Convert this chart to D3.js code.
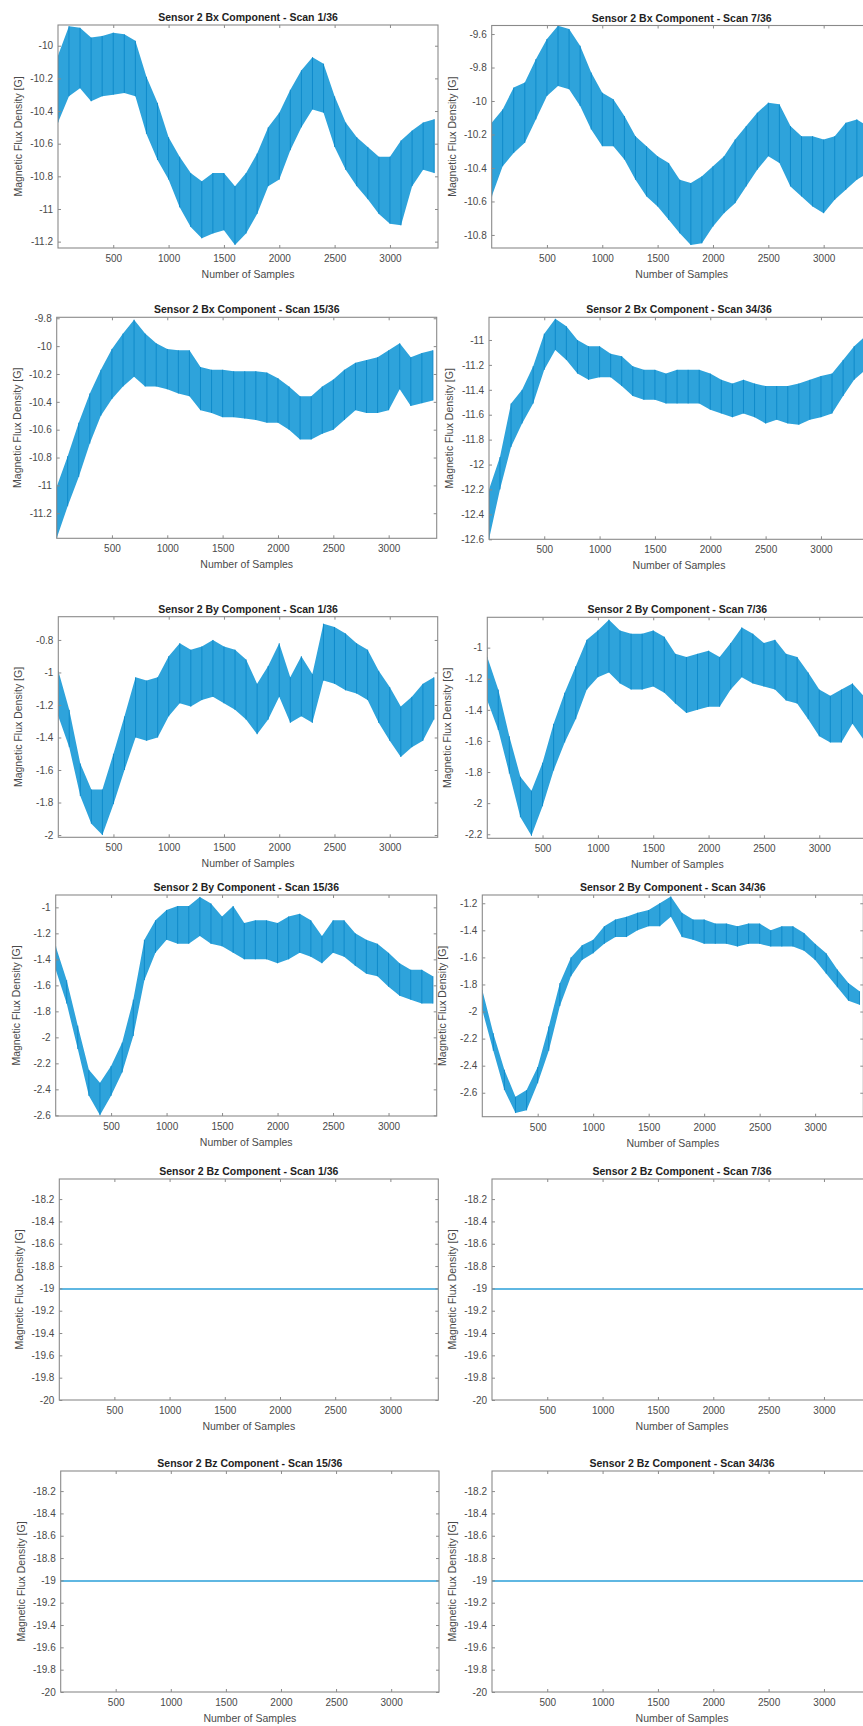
<!DOCTYPE html>
<html><head><meta charset="utf-8">
<script src="https://cdn.jsdelivr.net/npm/d3@7"></script>
<style>
body{margin:0;background:#fff;overflow:hidden}
svg{display:block}
text{font-family:"Liberation Sans",Arial,Helvetica,sans-serif}
</style>
</head><body><div id="chart"></div>
<script>
// ---------- data ----------
const samples = [1,100,200,300,400,500,600,700,800,900,1000,1100,1200,1300,1400,1500,1600,1700,1800,1900,2000,2100,2200,2300,2400,2500,2600,2700,2800,2900,3000,3100,3200,3300,3400];
const sampleRange = [1, 3434];
const xTicks = [500,1000,1500,2000,2500,3000];
const components = ["Bx","By","Bz"];
const scans = ["1/36","7/36","15/36","34/36"];

// Bx, scan 1/36 (upper / lower envelope of the oscillating signal)
const bx1Hi = [-10.06,-9.88,-9.89,-9.95,-9.94,-9.92,-9.93,-9.97,-10.19,-10.35,-10.56,-10.68,-10.78,-10.83,-10.78,-10.78,-10.86,-10.78,-10.66,-10.50,-10.41,-10.27,-10.15,-10.07,-10.11,-10.31,-10.47,-10.56,-10.62,-10.68,-10.68,-10.58,-10.52,-10.47,-10.45];
const bx1Lo = [-10.47,-10.31,-10.26,-10.34,-10.31,-10.30,-10.29,-10.31,-10.54,-10.70,-10.82,-10.99,-11.11,-11.18,-11.15,-11.13,-11.22,-11.15,-11.03,-10.86,-10.82,-10.64,-10.50,-10.39,-10.41,-10.62,-10.76,-10.86,-10.94,-11.03,-11.09,-11.10,-10.86,-10.76,-10.78];
// Bx, scan 7/36
const bx7Hi = [-10.13,-10.05,-9.92,-9.89,-9.75,-9.63,-9.55,-9.57,-9.67,-9.83,-9.95,-9.99,-10.09,-10.21,-10.27,-10.33,-10.37,-10.47,-10.49,-10.45,-10.39,-10.33,-10.23,-10.15,-10.07,-10.01,-10.02,-10.15,-10.21,-10.21,-10.23,-10.21,-10.13,-10.11,-10.15];
const bx7Lo = [-10.57,-10.39,-10.31,-10.25,-10.11,-9.97,-9.91,-9.93,-10.03,-10.17,-10.27,-10.27,-10.35,-10.47,-10.57,-10.63,-10.71,-10.79,-10.86,-10.85,-10.75,-10.67,-10.61,-10.51,-10.41,-10.33,-10.37,-10.51,-10.57,-10.63,-10.67,-10.59,-10.53,-10.47,-10.43];
// Bx, scan 15/36
const bx15Hi = [-11.01,-10.79,-10.55,-10.34,-10.17,-10.02,-9.91,-9.81,-9.91,-9.98,-10.02,-10.03,-10.03,-10.15,-10.17,-10.17,-10.18,-10.18,-10.18,-10.19,-10.23,-10.29,-10.36,-10.36,-10.29,-10.24,-10.17,-10.12,-10.10,-10.08,-10.03,-9.98,-10.08,-10.05,-10.03];
const bx15Lo = [-11.38,-11.15,-10.94,-10.70,-10.50,-10.38,-10.29,-10.22,-10.29,-10.29,-10.31,-10.34,-10.36,-10.46,-10.48,-10.51,-10.51,-10.52,-10.53,-10.55,-10.55,-10.60,-10.67,-10.67,-10.63,-10.60,-10.53,-10.46,-10.48,-10.48,-10.46,-10.31,-10.43,-10.41,-10.39];
// Bx, scan 34/36
const bx34Hi = [-12.20,-11.94,-11.51,-11.40,-11.21,-10.95,-10.83,-10.89,-11.00,-11.05,-11.05,-11.11,-11.13,-11.21,-11.24,-11.24,-11.27,-11.24,-11.24,-11.24,-11.27,-11.32,-11.35,-11.32,-11.35,-11.37,-11.37,-11.37,-11.35,-11.32,-11.29,-11.27,-11.16,-11.05,-10.97];
const bx34Lo = [-12.60,-12.20,-11.86,-11.67,-11.51,-11.24,-11.08,-11.16,-11.27,-11.32,-11.30,-11.30,-11.37,-11.45,-11.48,-11.48,-11.51,-11.51,-11.51,-11.51,-11.56,-11.59,-11.62,-11.59,-11.62,-11.67,-11.64,-11.67,-11.68,-11.64,-11.62,-11.59,-11.45,-11.32,-11.24];
// By, scan 1/36
const by1Hi = [-0.99,-1.23,-1.56,-1.72,-1.72,-1.50,-1.27,-1.03,-1.05,-1.03,-0.90,-0.82,-0.86,-0.84,-0.80,-0.84,-0.86,-0.92,-1.07,-0.96,-0.82,-1.03,-0.90,-1.01,-0.70,-0.72,-0.76,-0.82,-0.86,-0.99,-1.09,-1.21,-1.15,-1.07,-1.03];
const by1Lo = [-1.27,-1.46,-1.76,-1.93,-2.00,-1.81,-1.60,-1.40,-1.42,-1.40,-1.27,-1.19,-1.21,-1.17,-1.15,-1.19,-1.23,-1.29,-1.38,-1.29,-1.15,-1.31,-1.27,-1.31,-1.05,-1.07,-1.11,-1.13,-1.17,-1.31,-1.42,-1.52,-1.46,-1.42,-1.29];
// By, scan 7/36
const by7Hi = [-1.06,-1.27,-1.57,-1.83,-1.92,-1.74,-1.49,-1.29,-1.12,-0.95,-0.89,-0.82,-0.89,-0.91,-0.91,-0.89,-0.93,-1.04,-1.06,-1.04,-1.02,-1.06,-0.97,-0.87,-0.91,-0.97,-0.95,-1.04,-1.06,-1.16,-1.27,-1.31,-1.27,-1.23,-1.31];
const by7Lo = [-1.34,-1.53,-1.81,-2.09,-2.21,-2.02,-1.79,-1.61,-1.46,-1.27,-1.19,-1.16,-1.23,-1.27,-1.27,-1.25,-1.29,-1.36,-1.42,-1.40,-1.38,-1.38,-1.27,-1.19,-1.23,-1.25,-1.27,-1.34,-1.36,-1.46,-1.57,-1.61,-1.61,-1.49,-1.59];
// By, scan 15/36
const by15Hi = [-1.30,-1.56,-1.91,-2.25,-2.35,-2.22,-2.04,-1.71,-1.25,-1.10,-1.02,-0.99,-0.99,-0.92,-0.97,-1.07,-0.99,-1.12,-1.10,-1.10,-1.12,-1.07,-1.05,-1.10,-1.22,-1.10,-1.10,-1.20,-1.25,-1.28,-1.35,-1.43,-1.48,-1.48,-1.53];
const by15Lo = [-1.48,-1.74,-2.09,-2.45,-2.60,-2.45,-2.27,-1.99,-1.56,-1.35,-1.25,-1.28,-1.28,-1.22,-1.28,-1.30,-1.35,-1.40,-1.40,-1.40,-1.43,-1.40,-1.35,-1.38,-1.43,-1.35,-1.38,-1.45,-1.51,-1.53,-1.61,-1.68,-1.71,-1.74,-1.74];
// By, scan 34/36
const by34Hi = [-1.84,-2.16,-2.43,-2.63,-2.58,-2.41,-2.11,-1.79,-1.60,-1.51,-1.47,-1.37,-1.32,-1.30,-1.27,-1.25,-1.20,-1.15,-1.27,-1.32,-1.32,-1.35,-1.35,-1.37,-1.35,-1.35,-1.40,-1.37,-1.37,-1.42,-1.50,-1.57,-1.69,-1.79,-1.85];
const by34Lo = [-1.99,-2.29,-2.58,-2.75,-2.73,-2.53,-2.29,-1.96,-1.74,-1.62,-1.57,-1.50,-1.45,-1.45,-1.40,-1.37,-1.37,-1.30,-1.45,-1.47,-1.50,-1.50,-1.50,-1.52,-1.50,-1.50,-1.52,-1.52,-1.52,-1.55,-1.62,-1.72,-1.82,-1.92,-1.95];
// Bz, all scans: constant level
const bzLevels = [-19.005,-19.005,-19.005,-19.005];

// axis ranges (axis tight) and tick labels
const bx1Domain = [-11.239,-9.873], bx1Ticks = [-11.2,-11,-10.8,-10.6,-10.4,-10.2,-10];
const bx7Domain = [-10.878,-9.549], bx7Ticks = [-10.8,-10.6,-10.4,-10.2,-10,-9.8,-9.6];
const bx15Domain = [-11.38,-9.793], bx15Ticks = [-11.2,-11,-10.8,-10.6,-10.4,-10.2,-10,-9.8];
const bx34Domain = [-12.6,-10.818], bx34Ticks = [-12.6,-12.4,-12.2,-12,-11.8,-11.6,-11.4,-11.2,-11];
const by1Domain = [-2.014,-0.657], by1Ticks = [-2,-1.8,-1.6,-1.4,-1.2,-1,-0.8];
const by7Domain = [-2.226,-0.805], by7Ticks = [-2.2,-2,-1.8,-1.6,-1.4,-1.2,-1];
const by15Domain = [-2.605,-0.905], by15Ticks = [-2.6,-2.4,-2.2,-2,-1.8,-1.6,-1.4,-1.2,-1];
const by34Domain = [-2.777,-1.139], by34Ticks = [-2.6,-2.4,-2.2,-2,-1.8,-1.6,-1.4,-1.2];
const bzDomain = [-20,-18.02], bzTicks = [-20,-19.8,-19.6,-19.4,-19.2,-19,-18.8,-18.6,-18.4,-18.2];

// ---------- panels ----------
const panels = [
  {comp:0, scan:0, hi:bx1Hi, lo:bx1Lo, dom:bx1Domain, ticks:bx1Ticks},
  {comp:0, scan:1, hi:bx7Hi, lo:bx7Lo, dom:bx7Domain, ticks:bx7Ticks},
  {comp:0, scan:2, hi:bx15Hi, lo:bx15Lo, dom:bx15Domain, ticks:bx15Ticks},
  {comp:0, scan:3, hi:bx34Hi, lo:bx34Lo, dom:bx34Domain, ticks:bx34Ticks},
  {comp:1, scan:0, hi:by1Hi, lo:by1Lo, dom:by1Domain, ticks:by1Ticks},
  {comp:1, scan:1, hi:by7Hi, lo:by7Lo, dom:by7Domain, ticks:by7Ticks},
  {comp:1, scan:2, hi:by15Hi, lo:by15Lo, dom:by15Domain, ticks:by15Ticks},
  {comp:1, scan:3, hi:by34Hi, lo:by34Lo, dom:by34Domain, ticks:by34Ticks},
  {comp:2, scan:0, level:bzLevels[0], dom:bzDomain, ticks:bzTicks},
  {comp:2, scan:1, level:bzLevels[1], dom:bzDomain, ticks:bzTicks},
  {comp:2, scan:2, level:bzLevels[2], dom:bzDomain, ticks:bzTicks},
  {comp:2, scan:3, level:bzLevels[3], dom:bzDomain, ticks:bzTicks}
];
// layout: [left, top, width, height]
const layout = [
  [58,25,380,223],[491.7,25.5,380,222.5],
  [56.7,317.3,380,221],[489,317.3,380,222],
  [58.3,616.7,379.4,220.6],[487.3,617.3,380,221],
  [55.7,895,381,221],[482.3,895,381,221.7],
  [59.3,1179,379,221],[492,1179,380,221],
  [60.7,1471,378.3,221],[492,1471,380,221]
];

const W = 863, H = 1726;
const svg = d3.select("#chart").append("svg").attr("width", W).attr("height", H);
svg.append("rect").attr("width", W).attr("height", H).attr("fill", "#fff");

const boxColor = "#8a8a8a";
const textColor = "#4a4a4a";
const fillBlue = "#2ea3db";
const lineBlue = "#0c88c8";
const fmt = d => String(Math.round(d * 10) / 10);

panels.forEach((p, k) => {
  const [left, top, w, h] = layout[k];
  const g = svg.append("g").attr("transform", `translate(${left},${top})`);
  const x = d3.scaleLinear().domain(sampleRange).range([0, w]);
  const y = d3.scaleLinear().domain(p.dom).range([h, 0]);

  const cid = "clip" + k;
  g.append("clipPath").attr("id", cid).append("rect").attr("width", w).attr("height", h);
  const plot = g.append("g").attr("clip-path", `url(#${cid})`);

  if (p.hi) {
    const area = d3.area()
      .x((d, i) => x(samples[i]))
      .y0((d, i) => y(p.lo[i]))
      .y1(d => y(d));
    plot.append("path").datum(p.hi).attr("d", area).attr("fill", fillBlue);
    plot.selectAll("line.spike").data(p.hi).join("line")
      .attr("class", "spike")
      .attr("x1", (d, i) => x(samples[i])).attr("x2", (d, i) => x(samples[i]))
      .attr("y1", d => y(d)).attr("y2", (d, i) => y(p.lo[i]))
      .attr("stroke", lineBlue).attr("stroke-width", 0.9);
  } else {
    const line = d3.line().x(d => x(d[0])).y(d => y(d[1]));
    plot.append("path").datum(sampleRange.map(s => [s, p.level]))
      .attr("d", line).attr("fill", "none").attr("stroke", "#2a9fd8").attr("stroke-width", 1.6);
  }

  // axes (ticks pointing inward, box on)
  const styleAxis = sel => {
    sel.select(".domain").remove();
    sel.selectAll(".tick line").attr("stroke", boxColor);
    sel.selectAll(".tick text").attr("fill", textColor).style("font-size", "10px");
  };
  g.append("g").attr("transform", `translate(0,${h})`)
    .call(d3.axisBottom(x).tickValues(xTicks).tickSize(-3).tickPadding(7).tickFormat(d3.format("d")))
    .call(styleAxis);
  g.append("g")
    .call(d3.axisTop(x).tickValues(xTicks).tickSize(-3).tickFormat(""))
    .call(styleAxis);
  g.append("g")
    .call(d3.axisLeft(y).tickValues(p.ticks).tickSize(-3).tickPadding(5).tickFormat(fmt))
    .call(styleAxis);
  g.append("g").attr("transform", `translate(${w},0)`)
    .call(d3.axisRight(y).tickValues(p.ticks).tickSize(-3).tickFormat(""))
    .call(styleAxis);

  g.append("rect").attr("width", w).attr("height", h)
    .attr("fill", "none").attr("stroke", boxColor).attr("stroke-width", 1.1);

  g.append("text").attr("x", w / 2).attr("y", -4).attr("text-anchor", "middle")
    .style("font-size", "10.5px").style("font-weight", "bold").attr("fill", "#1e1e1e")
    .text(`Sensor 2 ${components[p.comp]} Component - Scan ${scans[p.scan]}`);
  g.append("text").attr("x", w / 2).attr("y", h + 30).attr("text-anchor", "middle")
    .style("font-size", "10.5px").attr("fill", textColor).text("Number of Samples");
  g.append("text").attr("transform", `translate(-36,${h / 2}) rotate(-90)`).attr("text-anchor", "middle")
    .style("font-size", "10.5px").attr("fill", textColor).text("Magnetic Flux Density [G]");
});
</script>
</body></html>
